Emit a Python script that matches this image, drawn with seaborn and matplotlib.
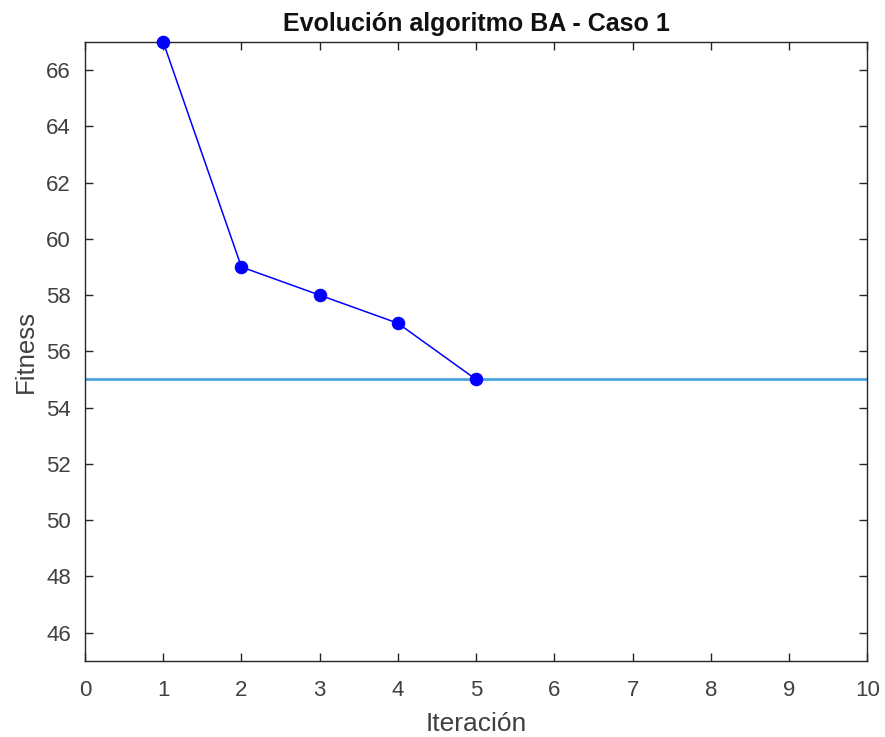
import matplotlib
matplotlib.use("Agg")
import matplotlib.pyplot as plt
import seaborn as sns
import pandas as pd

iterations = [1, 2, 3, 4, 5]
fitness = [67, 59, 58, 57, 55]
optimum = 55
x_ticks = list(range(0, 11))
y_ticks = list(range(46, 67, 2))

sns.set_theme(style="white")
plt.rcParams['font.family'] = ['Liberation Sans', 'DejaVu Sans']

fig = plt.figure(figsize=(8.85, 7.37), dpi=100)
ax = fig.add_axes([0.096, 0.1035, 0.884, 0.8395])

df = pd.DataFrame({"Iteración": iterations, "Fitness": fitness})
ax.axhline(optimum, color="#4DA6E0", linewidth=2, zorder=1)
sns.lineplot(data=df, x="Iteración", y="Fitness", ax=ax, color="#0000FF",
             marker="o", markersize=9, markeredgecolor="#0000FF",
             linewidth=1.1, zorder=3, clip_on=False)

ax.set_xlim(0, 10)
ax.set_ylim(45, 67)
ax.set_xticks(x_ticks)
ax.set_yticks(y_ticks)
ax.tick_params(direction="in", length=6, width=1, colors="#262626",
               labelsize=16, top=True, right=True, bottom=True, left=True)
ax.tick_params(axis="x", pad=14)
ax.tick_params(axis="y", pad=10)
for lab in ax.get_xticklabels() + ax.get_yticklabels():
    lab.set_color("#404040")
for s in ax.spines.values():
    s.set_color("#262626")
    s.set_linewidth(1)
ax.set_xlabel("Iteración", fontsize=19, color="#404040", labelpad=8)
ax.set_ylabel("Fitness", fontsize=18.5, color="#404040", labelpad=6)
ax.set_title("Evolución algoritmo BA - Caso 1", fontsize=18, fontweight="bold",
             color="#111111", pad=8)

fig.savefig("out.png", dpi=100)
